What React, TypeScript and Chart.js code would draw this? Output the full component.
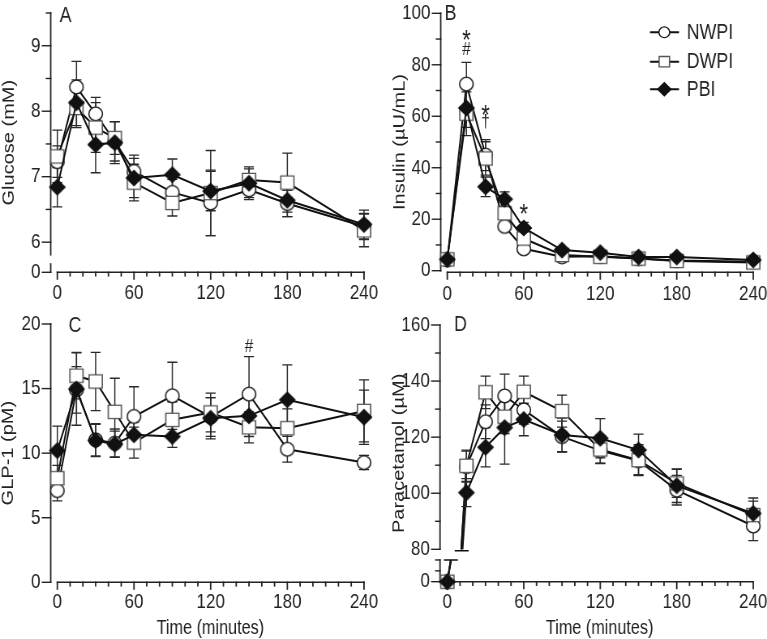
import React, { useEffect, useRef } from 'react';
import { Chart, registerables } from 'chart.js';

Chart.register(...registerables);

// ---------------- data ----------------
const TIMES = [0, 15, 30, 45, 60, 90, 120, 150, 180, 240];
const SERIES = ['NWPI', 'DWPI', 'PBI'];
const X_TICKS = [0, 10, 20, 30, 40, 50, 60, 70, 80, 90, 100, 110, 120, 130, 140, 150, 160, 170, 180, 190, 200, 210, 220, 230, 240];
const X_LABEL_EVERY = 60;

// Glucose (mM)
const GLU_NWPI = [7.23, 8.37, 7.96, 7.54, 7.08, 6.76, 6.6, 6.8, 6.59, 6.24];
const GLU_NWPI_SEM = [0.24, 0.39, 0.25, 0.3, 0.25, 0.2, 0.5, 0.15, 0.2, 0.2];
const GLU_DWPI = [7.31, 8.05, 7.75, 7.59, 6.91, 6.6, 6.75, 6.95, 6.91, 6.18];
const GLU_DWPI_SEM = [0.4, 0.3, 0.38, 0.25, 0.28, 0.2, 0.65, 0.2, 0.45, 0.25];
const GLU_PBI = [6.84, 8.13, 7.49, 7.52, 6.98, 7.03, 6.78, 6.9, 6.64, 6.27];
const GLU_PBI_SEM = [0.3, 0.35, 0.43, 0.32, 0.3, 0.24, 0.3, 0.22, 0.25, 0.22];
const GLU_Y_TICKS = [6, 6.5, 7, 7.5, 8, 8.5, 9, 9.5];
const GLU_ZERO = 5.54; // where the broken axis shows "0"

// Insulin (µU/mL)
const INS_NWPI = [4.2, 72.5, 44.9, 17.2, 8.5, 5.4, 5.6, 4.7, 4.0, 3.5];
const INS_NWPI_SEM = [0.8, 8.4, 6.0, 1.5, 1.2, 0.8, 0.8, 0.8, 0.8, 0.6];
const INS_DWPI = [4.4, 61.0, 43.6, 22.3, 12.5, 6.1, 5.4, 4.7, 3.8, 3.2];
const INS_DWPI_SEM = [0.8, 8.5, 6.5, 2.0, 1.5, 1.0, 0.8, 1.0, 0.8, 0.6];
const INS_PBI = [4.4, 63.2, 32.6, 27.8, 16.6, 8.0, 7.0, 5.3, 5.3, 4.2];
const INS_PBI_SEM = [0.8, 7.5, 3.8, 2.8, 2.2, 1.0, 0.8, 0.8, 0.8, 0.6];
const INS_Y_TICKS = [0, 10, 20, 30, 40, 50, 60, 70, 80, 90, 100];
const INS_MARKS = [
  { t: 15, v: 91.6, s: '*' },
  { t: 15, v: 86.0, s: '#' },
  { t: 30, v: 62.4, s: '*' },
  { t: 30, v: 57.3, s: '†' },
  { t: 60, v: 23.9, s: '*' },
];

// GLP-1 (pM)
const GLP_NWPI = [7.1, 14.9, 11.03, 10.77, 12.84, 14.44, 12.8, 14.57, 10.3, 9.27];
const GLP_NWPI_SEM = [0.8, 1.8, 1.25, 1.1, 2.3, 2.6, 1.5, 2.9, 1.0, 0.55];
const GLP_DWPI = [8.06, 16.0, 15.55, 13.2, 10.82, 12.58, 13.15, 12.0, 11.93, 13.27];
const GLP_DWPI_SEM = [1.0, 1.8, 2.25, 2.6, 1.2, 1.4, 1.5, 1.2, 1.5, 2.4];
const GLP_PBI = [10.2, 14.96, 10.98, 10.7, 11.42, 11.29, 12.7, 12.89, 14.13, 12.78];
const GLP_PBI_SEM = [1.9, 2.8, 1.25, 1.0, 1.0, 0.85, 1.6, 1.6, 2.7, 2.1];
const GLP_Y_TICKS = [0, 5, 10, 15, 20];
const GLP_MARKS = [{ t: 150, v: 18.24, s: '#' }];

// Paracetamol (µM)
const PAR_NWPI = [0, 109.5, 125.5, 134.7, 129.7, 120.2, 115.2, 111.6, 101.1, 88.3];
const PAR_NWPI_SEM = [0, 5.5, 6, 7.8, 5, 5.5, 4.5, 5, 5.3, 5.2];
const PAR_DWPI = [0, 109.8, 136.0, 127.3, 136.2, 129.3, 115.6, 111.8, 103.5, 92.2];
const PAR_DWPI_SEM = [0, 5.6, 5.8, 6, 5.6, 5.7, 5, 5.5, 5, 5];
const PAR_PBI = [0, 100.2, 116.4, 123.4, 126.3, 120.8, 119.6, 115.4, 102.7, 92.8];
const PAR_PBI_SEM = [0, 5, 7, 13, 5.8, 6, 7, 5.7, 6, 5.5];
const PAR_Y_TICKS = [80, 90, 100, 110, 120, 130, 140, 150, 160];
const PAR_LOW_TICKS = [0, 10, 20]; // lower part of the broken axis
const PAR_LOW_TOP = 20;
const PAR_ZERO = 68.45; // scale value where the broken lower part starts
const PAR_LOW_TOP_MAPPED = 76.2;
const PAR_UPPER_START = 80;
const parMap = (v: number) => (v <= PAR_LOW_TOP ? PAR_ZERO + (v * (PAR_LOW_TOP_MAPPED - PAR_ZERO)) / PAR_LOW_TOP : v);

// ---------------- style ----------------
const S = 0.81; // horizontal compression of the text
const FONT = "'Liberation Sans', Arial, Helvetica, sans-serif";
const TXT = '#222';
const LINE = '#111';
const TICK_SIZE = 21;
const TITLE_SIZE = 20;
const MARKERS = [
  { style: 'circle', r: 6.8, legendR: 5.4, fill: '#ffffff', stroke: '#1a1a1a' },
  { style: 'rect', r: 6.6, legendR: 5.2, fill: '#ffffff', stroke: '#555555' },
  { style: 'rectRot', r: 7.6, legendR: 6.6, fill: '#111111', stroke: '#111111' },
];

type Series = { values: number[]; errs: number[] };
type Mark = { t: number; v: number; s: string };
type Cfg = {
  key: string; letter: string; left: number; top: number; w: number; h: number;
  axisX: number; t0X: number; t240X: number; rightX: number;
  areaTop: number; areaBottom: number; xLineY: number;
  yMin: number; yMax: number; yTicks: number[]; yLabel: (v: number) => string;
  ySegments: [number, number][];
  yTitle: string; yTitleX: number; xTitle?: string; xTitleY?: number;
  xLabelY: number; letterX: number; letterY: number;
  series: Series[]; map: (v: number) => number;
  marks?: Mark[]; legend?: boolean; breakLine?: boolean; xAxisFromLeft?: boolean;
};

const ident = (v: number) => v;

const PANELS: Cfg[] = [
  {
    key: 'A', letter: 'A', left: 0, top: 0, w: 390, h: 310,
    axisX: 50.7, t0X: 57.3, t240X: 364, rightX: 370,
    areaTop: 13, areaBottom: 272.3, xLineY: 272.3,
    yMin: GLU_ZERO, yMax: 9.5, yTicks: [GLU_ZERO, ...GLU_Y_TICKS],
    yLabel: (v) => (v === GLU_ZERO ? '0' : Number.isInteger(v) ? String(v) : ''),
    ySegments: [[5.806, 9.5], [GLU_ZERO, 5.669]],
    yTitle: 'Glucose (mM)', yTitleX: 9, xLabelY: 293.5, letterX: 65.5, letterY: 14.5,
    series: [
      { values: GLU_NWPI, errs: GLU_NWPI_SEM },
      { values: GLU_DWPI, errs: GLU_DWPI_SEM },
      { values: GLU_PBI, errs: GLU_PBI_SEM },
    ],
    map: ident,
  },
  {
    key: 'B', letter: 'B', left: 390, top: 0, w: 377, h: 310,
    axisX: 440.7, t0X: 447.3, t240X: 754, rightX: 760,
    areaTop: 13.3, areaBottom: 270.7, xLineY: 272.3,
    yMin: 0, yMax: 100, yTicks: INS_Y_TICKS,
    yLabel: (v) => (v % 20 === 0 ? String(v) : ''),
    ySegments: [[0, 100]],
    yTitle: 'Insulin (µU/mL)', yTitleX: 400, xLabelY: 294, letterX: 450.5, letterY: 13.3,
    series: [
      { values: INS_NWPI, errs: INS_NWPI_SEM },
      { values: INS_DWPI, errs: INS_DWPI_SEM },
      { values: INS_PBI, errs: INS_PBI_SEM },
    ],
    map: ident, marks: INS_MARKS, legend: true,
  },
  {
    key: 'C', letter: 'C', left: 0, top: 310, w: 390, h: 329,
    axisX: 50.7, t0X: 57.3, t240X: 364, rightX: 370,
    areaTop: 324, areaBottom: 582.3, xLineY: 582.3,
    yMin: 0, yMax: 20, yTicks: GLP_Y_TICKS,
    yLabel: (v) => String(v),
    ySegments: [[0, 20]],
    yTitle: 'GLP-1 (pM)', yTitleX: 8.5, xTitle: 'Time (minutes)', xTitleY: 628,
    xLabelY: 602, letterX: 75, letterY: 325,
    series: [
      { values: GLP_NWPI, errs: GLP_NWPI_SEM },
      { values: GLP_DWPI, errs: GLP_DWPI_SEM },
      { values: GLP_PBI, errs: GLP_PBI_SEM },
    ],
    map: ident, marks: GLP_MARKS,
  },
  {
    key: 'D', letter: 'D', left: 390, top: 310, w: 377, h: 329,
    axisX: 440, t0X: 447.3, t240X: 754, rightX: 760,
    areaTop: 325, areaBottom: 581.7, xLineY: 581.7,
    yMin: PAR_ZERO, yMax: 160, yTicks: [...PAR_LOW_TICKS.map(parMap), ...PAR_Y_TICKS],
    yLabel: (v) => (v === PAR_ZERO ? '0' : v >= 80 && v % 20 === 0 ? String(v) : ''),
    ySegments: [[PAR_UPPER_START, 160], [PAR_ZERO, PAR_LOW_TOP_MAPPED]],
    yTitle: 'Paracetamol (µM)', yTitleX: 399, xTitle: 'Time (minutes)', xTitleY: 628,
    xLabelY: 602, letterX: 460.5, letterY: 324,
    series: [
      { values: PAR_NWPI, errs: PAR_NWPI_SEM },
      { values: PAR_DWPI, errs: PAR_DWPI_SEM },
      { values: PAR_PBI, errs: PAR_PBI_SEM },
    ],
    map: parMap, breakLine: true, xAxisFromLeft: true,
  },
];

// draws a marker centred on (0,0); the context is already stretched so it ends up round after compression
function markerPath(ctx: CanvasRenderingContext2D, idx: number, r: number) {
  const m = MARKERS[idx];
  ctx.beginPath();
  if (m.style === 'circle') ctx.arc(0, 0, r, 0, Math.PI * 2);
  else if (m.style === 'rect') ctx.rect(-r, -r, 2 * r, 2 * r);
  else {
    ctx.moveTo(-r, 0); ctx.lineTo(0, -r); ctx.lineTo(r, 0); ctx.lineTo(0, r); ctx.closePath();
  }
  ctx.fillStyle = m.fill;
  ctx.strokeStyle = m.stroke;
  ctx.lineWidth = 1.3;
  ctx.fill();
  ctx.stroke();
}

function drawMarkerAt(ctx: CanvasRenderingContext2D, idx: number, x: number, y: number, r: number, sx: number) {
  ctx.save();
  ctx.translate(x, y);
  ctx.scale(1 / sx, 1);
  markerPath(ctx, idx, r);
  ctx.restore();
}

function markerImage(idx: number, r: number, sx: number) {
  const c = document.createElement('canvas');
  const h = Math.ceil(2 * r + 4);
  const w = Math.ceil((2 * r + 4) / sx);
  c.width = w % 2 ? w + 1 : w;
  c.height = h % 2 ? h + 1 : h;
  const ctx = c.getContext('2d')!;
  drawMarkerAt(ctx, idx, c.width / 2, c.height / 2, r, sx);
  return c;
}

function buildChart(canvas: HTMLCanvasElement, cfg: Cfg, wi: number) {
  const sx = cfg.w / wi;
  const toIX = (px: number) => (px - cfg.left) / sx;
  const toIY = (py: number) => py - cfg.top;
  const pxPerMin = (cfg.t240X - cfg.t0X) / 240;
  const xMin = -(cfg.t0X - cfg.axisX) / pxPerMin;
  const xMax = 240 + (cfg.rightX - cfg.t240X) / pxPerMin;
  const yW = (cfg.axisX - cfg.left) / sx;
  const padTop = cfg.areaTop - cfg.top;
  const padRight = (cfg.left + cfg.w - cfg.rightX) / sx;
  const xH = cfg.top + cfg.h - cfg.areaBottom;
  const titleLH = TITLE_SIZE * 1.2;
  const yTitlePad = toIX(cfg.yTitleX) - titleLH / 2;
  const xTitlePad = cfg.xTitleY ? cfg.top + cfg.h - cfg.xTitleY - titleLH / 2 : 0;
  const xLabelPad = cfg.xLabelY - cfg.areaBottom - (TICK_SIZE * 1.2) / 2;

  const datasets = cfg.series.map((se, i) => ({
    label: SERIES[i],
    data: TIMES.map((t, j) => ({ x: t, y: cfg.map(se.values[j]) })),
    borderColor: LINE,
    borderWidth: 2,
    tension: 0,
    fill: false,
    clip: false as const,
    order: 3 - i,
    pointStyle: markerImage(i, MARKERS[i].r, sx),
    pointRadius: MARKERS[i].r,
    pointHoverRadius: MARKERS[i].r,
    segment: cfg.breakLine
      ? { borderColor: (c: any) => (c.p0DataIndex === 0 ? 'rgba(0,0,0,0)' : undefined) }
      : undefined,
  }));

  const axesPlugin = {
    id: 'axes_' + cfg.key,
    beforeDatasetsDraw(chart: any) {
      const { ctx, chartArea } = chart;
      const xs = chart.scales.x;
      const ys = chart.scales.y;
      ctx.save();
      ctx.strokeStyle = '#222';
      ctx.lineCap = 'butt';
      ctx.lineWidth = 1.8;
      for (const [a, b] of cfg.ySegments) {
        ctx.beginPath();
        ctx.moveTo(chartArea.left, ys.getPixelForValue(a) + 0.7);
        ctx.lineTo(chartArea.left, ys.getPixelForValue(b) - 0.7);
        ctx.stroke();
      }
      ctx.lineWidth = 1.4;
      for (const tk of ys.ticks) {
        const y = ys.getPixelForValue(tk.value);
        const len = (tk.label !== '' ? 9 : 5) / sx;
        ctx.beginPath();
        ctx.moveTo(chartArea.left - len, y);
        ctx.lineTo(chartArea.left + 0.9, y);
        ctx.stroke();
      }
      const yl = toIY(cfg.xLineY);
      ctx.lineWidth = 1.4;
      ctx.beginPath();
      ctx.moveTo(cfg.xAxisFromLeft ? chartArea.left : xs.getPixelForValue(0) - 0.9, yl);
      ctx.lineTo(xs.getPixelForValue(240) + 0.9, yl);
      ctx.stroke();
      ctx.lineWidth = 1.8;
      for (const tk of xs.ticks) {
        const x = xs.getPixelForValue(tk.value);
        const len = tk.label !== '' ? 7.5 : 4.3;
        ctx.beginPath();
        ctx.moveTo(x, yl - 0.7);
        ctx.lineTo(x, yl + len);
        ctx.stroke();
      }
      ctx.restore();
    },
  };

  const breakPlugin = {
    id: 'break_' + cfg.key,
    beforeDatasetsDraw(chart: any) {
      if (!cfg.breakLine) return;
      const { ctx } = chart;
      const xs = chart.scales.x;
      const ys = chart.scales.y;
      ctx.save();
      ctx.strokeStyle = LINE;
      ctx.lineWidth = 2;
      const lowXs: number[] = [];
      const upXs: number[] = [];
      cfg.series.forEach((se) => {
        const v0 = se.values[0];
        const v1 = se.values[1];
        const t0 = TIMES[0];
        const t1 = TIMES[1];
        const tLow = t0 + ((PAR_LOW_TOP - v0) / (v1 - v0)) * (t1 - t0);
        const tUp = t0 + ((PAR_UPPER_START - v0) / (v1 - v0)) * (t1 - t0);
        const xLow = xs.getPixelForValue(tLow);
        const xUp = xs.getPixelForValue(tUp);
        lowXs.push(xLow);
        upXs.push(xUp);
        ctx.beginPath();
        ctx.moveTo(xs.getPixelForValue(t0), ys.getPixelForValue(parMap(v0)));
        ctx.lineTo(xLow, ys.getPixelForValue(PAR_LOW_TOP_MAPPED));
        ctx.moveTo(xUp, ys.getPixelForValue(PAR_UPPER_START));
        ctx.lineTo(xs.getPixelForValue(t1), ys.getPixelForValue(parMap(v1)));
        ctx.stroke();
      });
      const avg = (a: number[]) => a.reduce((p, c) => p + c, 0) / a.length;
      const hw = 7 / sx;
      ctx.lineWidth = 1.6;
      ctx.beginPath();
      const yLow = ys.getPixelForValue(PAR_LOW_TOP_MAPPED);
      ctx.moveTo(avg(lowXs) - hw, yLow);
      ctx.lineTo(avg(lowXs) + hw, yLow);
      const yUp = ys.getPixelForValue(PAR_UPPER_START) + 1.5;
      ctx.moveTo(avg(upXs) - hw, yUp);
      ctx.lineTo(avg(upXs) + hw, yUp);
      ctx.stroke();
      ctx.restore();
    },
  };

  const errPlugin = {
    id: 'err_' + cfg.key,
    beforeDatasetsDraw(chart: any) {
      const { ctx } = chart;
      const xs = chart.scales.x;
      const ys = chart.scales.y;
      const cap = 5 / sx;
      ctx.save();
      ctx.strokeStyle = '#2a2a2a';
      cfg.series.forEach((se) => {
        se.values.forEach((v, j) => {
          const e = se.errs[j];
          if (!e) return;
          const x = xs.getPixelForValue(TIMES[j]);
          const yA = ys.getPixelForValue(cfg.map(v + e));
          const yB = ys.getPixelForValue(cfg.map(v - e));
          ctx.lineWidth = 1.5;
          ctx.beginPath();
          ctx.moveTo(x, yA);
          ctx.lineTo(x, yB);
          ctx.stroke();
          ctx.lineWidth = 1.3;
          ctx.beginPath();
          ctx.moveTo(x - cap, yA);
          ctx.lineTo(x + cap, yA);
          ctx.moveTo(x - cap, yB);
          ctx.lineTo(x + cap, yB);
          ctx.stroke();
        });
      });
      ctx.restore();
    },
  };

  const textPlugin = {
    id: 'text_' + cfg.key,
    afterDatasetsDraw(chart: any) {
      const { ctx } = chart;
      const xs = chart.scales.x;
      const ys = chart.scales.y;
      ctx.save();
      ctx.fillStyle = TXT;
      ctx.textAlign = 'center';
      ctx.textBaseline = 'middle';
      ctx.font = `22px ${FONT}`;
      ctx.fillText(cfg.letter, toIX(cfg.letterX), toIY(cfg.letterY) + 1);
      for (const m of cfg.marks || []) {
        const size = m.s === '*' ? 27 : 19;
        const off = m.s === '*' ? 0.23 * size : m.s === '†' ? -0.09 * size : 0;
        ctx.font = `${size}px ${FONT}`;
        ctx.fillText(m.s, xs.getPixelForValue(m.t), ys.getPixelForValue(cfg.map(m.v)) + off);
      }
      if (cfg.legend) {
        const rows = [32.3, 61.7, 89.3];
        ctx.textAlign = 'left';
        ctx.font = `22px ${FONT}`;
        SERIES.forEach((name, i) => {
          const y = toIY(rows[i]);
          ctx.strokeStyle = LINE;
          ctx.lineWidth = 2;
          ctx.beginPath();
          ctx.moveTo(toIX(650), y);
          ctx.lineTo(toIX(679), y);
          ctx.stroke();
          drawMarkerAt(ctx, i, toIX(664.3), y, MARKERS[i].legendR, sx);
          ctx.fillStyle = TXT;
          ctx.fillText(name, toIX(686.7), y + 0.5);
        });
      }
      ctx.restore();
    },
  };

  return new Chart(canvas, {
    type: 'line',
    data: { datasets: datasets as any },
    options: {
      responsive: false,
      animation: false,
      devicePixelRatio: 1,
      events: [],
      layout: { padding: { top: padTop, right: padRight, left: 0, bottom: 0 } },
      plugins: { legend: { display: false }, tooltip: { enabled: false } },
      scales: {
        x: {
          type: 'linear',
          min: xMin,
          max: xMax,
          grid: { display: false, drawTicks: false },
          border: { display: false },
          afterBuildTicks: (s: any) => {
            s.ticks = X_TICKS.map((v) => ({ value: v }));
          },
          afterFit: (s: any) => {
            s.height = xH;
            s.paddingLeft = 0;
            s.paddingRight = 0;
          },
          ticks: {
            autoSkip: false,
            maxRotation: 0,
            minRotation: 0,
            padding: xLabelPad,
            color: TXT,
            font: { family: FONT, size: TICK_SIZE },
            callback: (v: any) => (Number(v) % X_LABEL_EVERY === 0 ? String(v) : ''),
          },
          title: cfg.xTitle
            ? { display: true, text: cfg.xTitle, color: TXT, font: { family: FONT, size: TITLE_SIZE, lineHeight: 1.2 }, padding: { top: 0, bottom: xTitlePad } }
            : { display: false },
        },
        y: {
          type: 'linear',
          min: cfg.yMin,
          max: cfg.yMax,
          grid: { display: false, drawTicks: false },
          border: { display: false },
          afterBuildTicks: (s: any) => {
            s.ticks = cfg.yTicks.map((v) => ({ value: v }));
          },
          afterFit: (s: any) => {
            s.width = yW;
            s.paddingTop = 0;
            s.paddingBottom = 0;
          },
          ticks: {
            autoSkip: false,
            padding: 12.6,
            color: TXT,
            font: { family: FONT, size: TICK_SIZE },
            callback: (v: any) => cfg.yLabel(Number(v)),
          },
          title: { display: true, text: cfg.yTitle, color: TXT, font: { family: FONT, size: TITLE_SIZE, lineHeight: 1.2 }, padding: { top: yTitlePad, bottom: 0 } },
        },
      },
    } as any,
    plugins: [axesPlugin, breakPlugin, errPlugin, textPlugin],
  });
}

function Panel({ cfg }: { cfg: Cfg }) {
  const ref = useRef<HTMLCanvasElement>(null);
  const wi = Math.round(cfg.w / S);
  useEffect(() => {
    if (!ref.current) return;
    const chart = buildChart(ref.current, cfg, wi);
    return () => chart.destroy();
  }, [cfg, wi]);
  return (
    <canvas
      ref={ref}
      width={wi}
      height={cfg.h}
      style={{ position: 'absolute', left: cfg.left, top: cfg.top, width: cfg.w, height: cfg.h, display: 'block' }}
    />
  );
}

export default function App() {
  return (
    <div style={{ position: 'absolute', left: 0, top: 0, width: 767, height: 639, background: '#ffffff', overflow: 'hidden' }}>
      {PANELS.map((p) => (
        <Panel key={p.key} cfg={p} />
      ))}
    </div>
  );
}
